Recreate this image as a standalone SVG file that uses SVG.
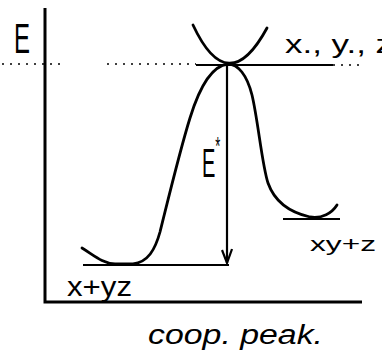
<svg xmlns="http://www.w3.org/2000/svg" width="382" height="361" viewBox="0 0 382 361">
<defs>
<style>
.ax{stroke:#000;stroke-width:3;fill:none}
.cv{stroke:#000;stroke-width:2.8;fill:none;stroke-linecap:round;stroke-linejoin:round}
.ln{stroke:#000;stroke-width:2.2;fill:none}
.dot{stroke:#000;stroke-width:1.3;fill:none;stroke-dasharray:2 6}
.t{font-family:"Liberation Sans",Arial,sans-serif;fill:#000}
</style>
<marker id="ah" viewBox="0 0 16 12" refX="15" refY="6" markerWidth="16" markerHeight="12" markerUnits="userSpaceOnUse" orient="auto">
<path d="M1,1 L15,6 L2,11" fill="none" stroke="#000" stroke-width="2.2"/>
</marker>
</defs>
<rect width="382" height="361" fill="#fff"/>
<g id="axes">
<path class="ax" d="M45,8 L45,302 L362,302"/>
</g>
<g id="levels">
<path class="dot" d="M2,64 L60,64 M107,64 L196,64 M333,65 L362,65"/>
<path class="ln" d="M196,65 L333,65"/>
<path class="ln" d="M83,265 L229,265"/>
<path class="ln" d="M283,219 L340,219"/>
</g>
<g id="curves">
<path class="cv" d="M193,25 Q228,100 267,28"/>
<path class="cv" d="M82,248 C95,256 102,263 115,264 L133,264 C148,262 155,250 160,232 C168,200 180,150 190,118 C198,92 210,66 228,64 C238,64 247,75 252,95 C258,120 262,165 268,183 C274,200 288,212 310,217 C322,219 332,213 337,205"/>
</g>
<g id="connectors">
<path class="ln" d="M227,66 L227,263" marker-end="url(#ah)"/>
</g>
<g id="labels">
<text class="t" x="14" y="53" font-size="42" textLength="16" lengthAdjust="spacingAndGlyphs">E</text>
<text class="t" transform="translate(202,177) scale(0.5,1)" font-size="40">E<tspan font-size="26" dy="-22">*</tspan></text>
<text class="t" x="285" y="53" font-size="26" textLength="108" lengthAdjust="spacingAndGlyphs">x., y., z</text>
<text class="t" x="310" y="251" font-size="21" textLength="66" lengthAdjust="spacingAndGlyphs">xy+z</text>
<text class="t" x="67" y="296" font-size="27" textLength="65" lengthAdjust="spacingAndGlyphs">x+yz</text>
<text class="t" x="148" y="344" font-size="27" font-style="italic" textLength="175" lengthAdjust="spacingAndGlyphs">coop. peak.</text>
</g>
</svg>
